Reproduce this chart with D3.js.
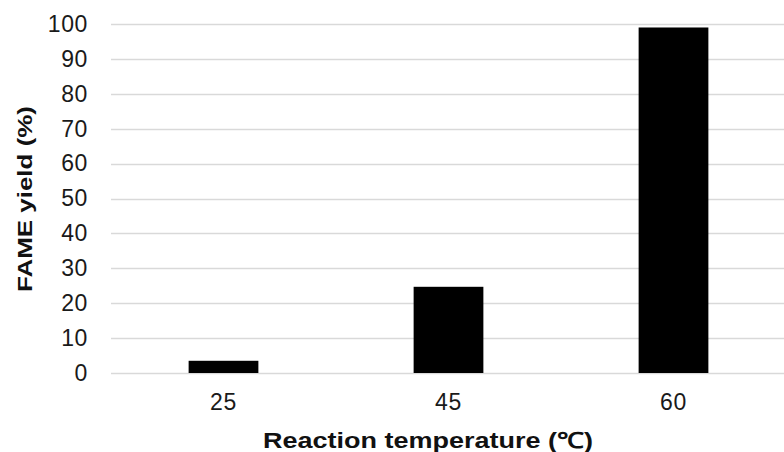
<!DOCTYPE html>
<html>
<head>
<meta charset="utf-8">
<script src="https://cdn.jsdelivr.net/npm/d3@7"></script>
<style>
  html, body { margin: 0; padding: 0; background: #fff; }
  svg { display: block; }
</style>
</head>
<body>
<svg id="chart" width="784" height="452"></svg>
<script>
const categories = ["25", "45", "60"];
const yieldValues = [3.5, 24.7, 99.0];
const yTicks = [0, 10, 20, 30, 40, 50, 60, 70, 80, 90, 100];
const xTitle = "Reaction temperature (\u2103)";
const yTitle = "FAME yield (%)";

const svg = d3.select("#chart");
const W = 784, H = 452;
const plot = { left: 111, right: 786, top: 24, bottom: 373 };

const x = d3.scaleBand().domain(categories).range([plot.left, plot.right]).paddingInner(0.69).paddingOuter(0.345);
const y = d3.scaleLinear().domain([0, 100]).range([plot.bottom, plot.top]);

// gridlines
svg.append("g").selectAll("line").data(yTicks).join("line")
  .attr("x1", plot.left).attr("x2", W)
  .attr("y1", d => Math.round(y(d)) + 0.5).attr("y2", d => Math.round(y(d)) + 0.5)
  .attr("stroke", "#d9d9d9").attr("stroke-width", 1.5);

// y axis labels
const yAxis = d3.axisLeft(y).tickValues(yTicks).tickSize(0).tickPadding(0);
const gy = svg.append("g").attr("transform", "translate(88,0)").call(yAxis);
gy.select(".domain").remove();
gy.selectAll("text").attr("font-family", "Liberation Sans, Arial, sans-serif")
  .attr("font-size", 23).attr("fill", "#1a1a1a").attr("letter-spacing", "0.6px");

// bars
svg.append("g").selectAll("rect").data(categories).join("rect")
  .attr("x", d => x(d)).attr("width", x.bandwidth())
  .attr("y", (d, i) => y(yieldValues[i]))
  .attr("height", (d, i) => y(0) - y(yieldValues[i]))
  .attr("fill", "#000");

// x axis labels
const xAxis = d3.axisBottom(x).tickSize(0).tickPadding(0);
const gx = svg.append("g").attr("transform", "translate(0,394)").call(xAxis);
gx.select(".domain").remove();
gx.selectAll("text").attr("font-family", "Liberation Sans, Arial, sans-serif")
  .attr("font-size", 23).attr("fill", "#1a1a1a").attr("dy", "0.71em").attr("letter-spacing", "0.6px");

// axis titles
svg.append("text").attr("x", 428).attr("y", 448).attr("text-anchor", "middle")
  .attr("font-family", "Liberation Sans, Arial, sans-serif").attr("font-weight", "bold")
  .attr("font-size", 22).attr("fill", "#111")
  .attr("textLength", 330).attr("lengthAdjust", "spacingAndGlyphs")
  .text(xTitle);

svg.append("text").attr("transform", "translate(32,199) rotate(-90)").attr("text-anchor", "middle")
  .attr("font-family", "Liberation Sans, Arial, sans-serif").attr("font-weight", "bold")
  .attr("font-size", 20).attr("fill", "#111")
  .attr("textLength", 186).attr("lengthAdjust", "spacingAndGlyphs")
  .text(yTitle);
</script>
</body>
</html>
